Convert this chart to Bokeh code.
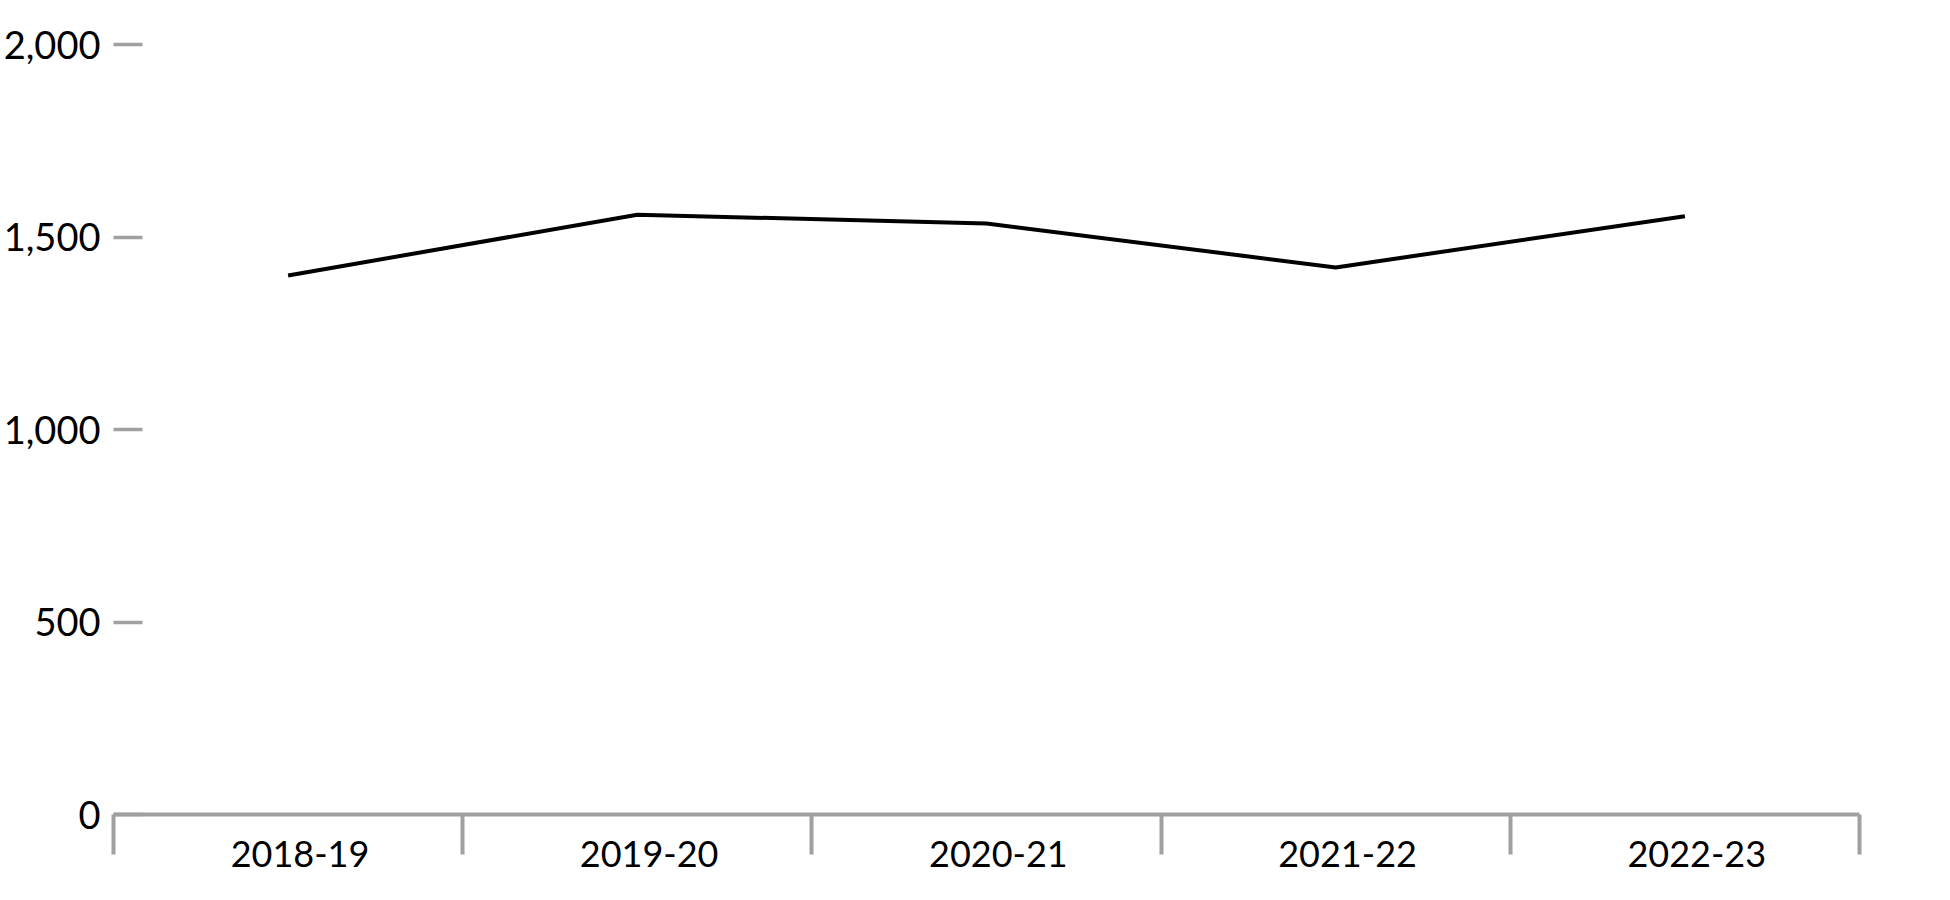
from bokeh.plotting import figure
from bokeh.models import Range1d, FixedTicker, NumeralTickFormatter
from bokeh.embed import file_html
from bokeh.resources import INLINE

categories = ["2018-19", "2019-20", "2020-21", "2021-22", "2022-23"]
values = [1400, 1558, 1535, 1421, 1554]
y_ticks = [0, 500, 1000, 1500, 2000]

n = len(categories)
xs = [i + 0.5 for i in range(n)]
LABEL_SHIFT = 0.034  # category labels sit slightly right of centre in the reference
label_pos = [x + LABEL_SHIFT for x in xs]

p = figure(width=1934, height=894, output_backend="svg", toolbar_location=None,
           x_range=Range1d(0, n), y_range=Range1d(0, 2000),
           min_border_left=113, min_border_right=75, min_border_top=44, min_border_bottom=80)
p.outline_line_color = None
p.grid.visible = False
p.background_fill_color = "white"

p.line(xs, values, line_color="black", line_width=4, line_join="round")

AX = "#a0a0a0"
FONT = "Lato"

xa = p.xaxis[0]
xa.ticker = FixedTicker(ticks=label_pos, minor_ticks=list(range(n + 1)))
xa.major_label_overrides = {x: c for x, c in zip(label_pos, categories)}
xa.major_tick_out = 0
xa.major_tick_in = 0
xa.minor_tick_out = 40
xa.minor_tick_in = 0
xa.minor_tick_line_color = AX
xa.minor_tick_line_width = 4
xa.axis_line_color = AX
xa.axis_line_width = 4
xa.major_label_standoff = -14
xa.major_label_text_font = FONT
xa.major_label_text_font_size = "36px"
xa.major_label_text_color = "black"

ya = p.yaxis[0]
ya.ticker = FixedTicker(ticks=y_ticks, minor_ticks=[])
ya.formatter = NumeralTickFormatter(format="0,0")
ya.axis_line_color = None
ya.major_tick_in = 29
ya.major_tick_out = 0
ya.major_tick_line_color = AX
ya.major_tick_line_width = 3.5
ya.minor_tick_line_color = None
ya.major_label_standoff = 13
ya.major_label_text_font = FONT
ya.major_label_text_font_size = "38px"
ya.major_label_text_color = "black"

open("out.html", "w").write(file_html(p, INLINE))
